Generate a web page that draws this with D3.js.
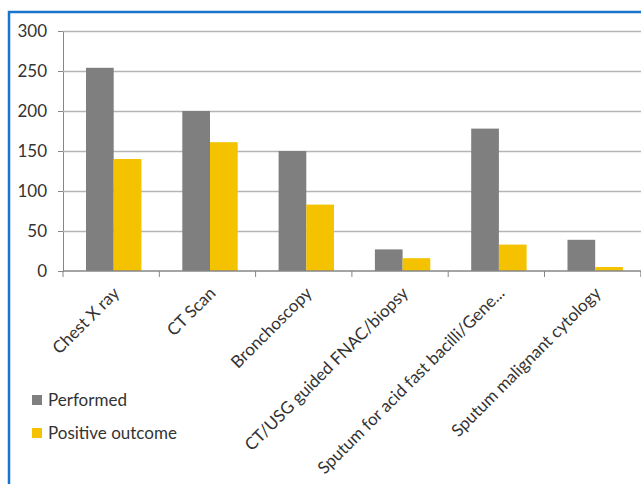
<!DOCTYPE html>
<html>
<head>
<meta charset="utf-8">
<script src="https://cdn.jsdelivr.net/npm/d3@7"></script>
<style>
  body { margin: 0; background: #fff; }
  svg { display: block; font-family: Lato, "Open Sans", sans-serif; }
</style>
</head>
<body>
<div id="chart"></div>
<script>
const categories = ['Chest X ray', 'CT Scan', 'Bronchoscopy', 'CT/USG guided FNAC/biopsy',
    'Sputum for acid fast bacilli/Gene...', 'Sputum malignant cytology'];
const performed = [254, 200, 150, 27, 178, 39];
const positive = [140, 161, 83, 16, 33, 5];
const seriesNames = ['Performed', 'Positive outcome'];
const colors = ['#7f7f7f', '#f5c200'];
const yTicks = [0, 50, 100, 150, 200, 250, 300];

const width = 641;
const height = 484;
const plotLeft = 63, plotTop = 31, plotBottom = 271, plotRight = 641;
const textColor = '#333333';

buildChart();

function buildChart() {

    const svg = d3.select('#chart')
        .append('svg')
        .attr('width', width)
        .attr('height', height);

    // frame of the original figure
    svg.append('path')
        .attr('d', `M9,${height} V12 H${width}`)
        .attr('fill', 'none')
        .attr('stroke', '#1874cd')
        .attr('stroke-width', 2.5);

    let x = d3.scaleBand()
        .domain(categories)
        .range([plotLeft, plotLeft + 6 * 96.3])
        .paddingInner(0)
        .paddingOuter(0);

    let y = d3.scaleLinear()
        .domain([0, 300])
        .range([plotBottom, plotTop]);

    let inner = d3.scaleBand()
        .domain(seriesNames)
        .range([23, 23 + 55.4]);

    // y axis + labels
    let yAxis = svg.append('g')
        .attr('transform', `translate(${plotLeft},0)`)
        .call(d3.axisLeft(y).tickValues(yTicks).tickSize(5).tickPadding(11));
    yAxis.select('.domain').attr('stroke', '#868686');
    yAxis.selectAll('.tick line').attr('stroke', '#868686');
    yAxis.selectAll('.tick text')
        .attr('font-size', 17)
        .attr('fill', textColor)
        .attr('font-family', 'Lato, sans-serif');

    // gridlines
    svg.append('g')
        .selectAll('line')
        .data(yTicks.filter(d => d > 0))
        .enter()
        .append('line')
        .attr('x1', plotLeft)
        .attr('x2', plotRight)
        .attr('y1', d => y(d) + 0.5)
        .attr('y2', d => y(d) + 0.5)
        .attr('stroke', '#b5b5b5')
        .attr('stroke-width', 1.5);

    // bars
    const rows = categories.map((c, i) => ({ cat: c, values: [performed[i], positive[i]] }));

    let groups = svg.append('g')
        .selectAll('g')
        .data(rows)
        .enter()
        .append('g')
        .attr('transform', d => `translate(${x(d.cat)},0)`);

    groups.selectAll('rect')
        .data(d => d.values.map((v, j) => ({ name: seriesNames[j], v: v, j: j })))
        .enter()
        .append('rect')
        .attr('x', d => inner(d.name))
        .attr('width', inner.bandwidth())
        .attr('y', d => y(d.v))
        .attr('height', d => y(0) - y(d.v))
        .attr('fill', d => colors[d.j]);

    // x axis
    let xAxis = svg.append('g')
        .attr('transform', `translate(0,${plotBottom})`);
    xAxis.append('line')
        .attr('x1', plotLeft)
        .attr('x2', plotRight)
        .attr('stroke', '#868686')
        .attr('stroke-width', 1.5);
    xAxis.selectAll('.tk')
        .data(categories)
        .enter()
        .append('line')
        .attr('x1', d => x(d) + x.bandwidth())
        .attr('x2', d => x(d) + x.bandwidth())
        .attr('y1', 0)
        .attr('y2', 6)
        .attr('stroke', '#868686');
    xAxis.append('line')
        .attr('x1', plotLeft).attr('x2', plotLeft)
        .attr('y1', 0).attr('y2', 6)
        .attr('stroke', '#868686');

    xAxis.selectAll('.lbl')
        .data(categories)
        .enter()
        .append('text')
        .attr('transform', d => `translate(${x(d) + x.bandwidth() / 2 + 5},${19}) rotate(-45)`)
        .attr('text-anchor', 'end')
        .attr('dy', '0.35em')
        .attr('font-size', 17)
        .attr('fill', textColor)
        .text(d => d);

    // legend
    let legend = svg.append('g')
        .selectAll('g')
        .data(seriesNames)
        .enter()
        .append('g')
        .attr('transform', (d, i) => `translate(32,${395 + i * 33})`);

    legend.append('rect')
        .attr('width', 10)
        .attr('height', 10)
        .attr('fill', (d, i) => colors[i]);

    legend.append('text')
        .attr('x', 16)
        .attr('y', 5)
        .attr('dy', '0.35em')
        .attr('font-size', 17)
        .attr('fill', textColor)
        .text(d => d);
}
</script>
</body>
</html>
